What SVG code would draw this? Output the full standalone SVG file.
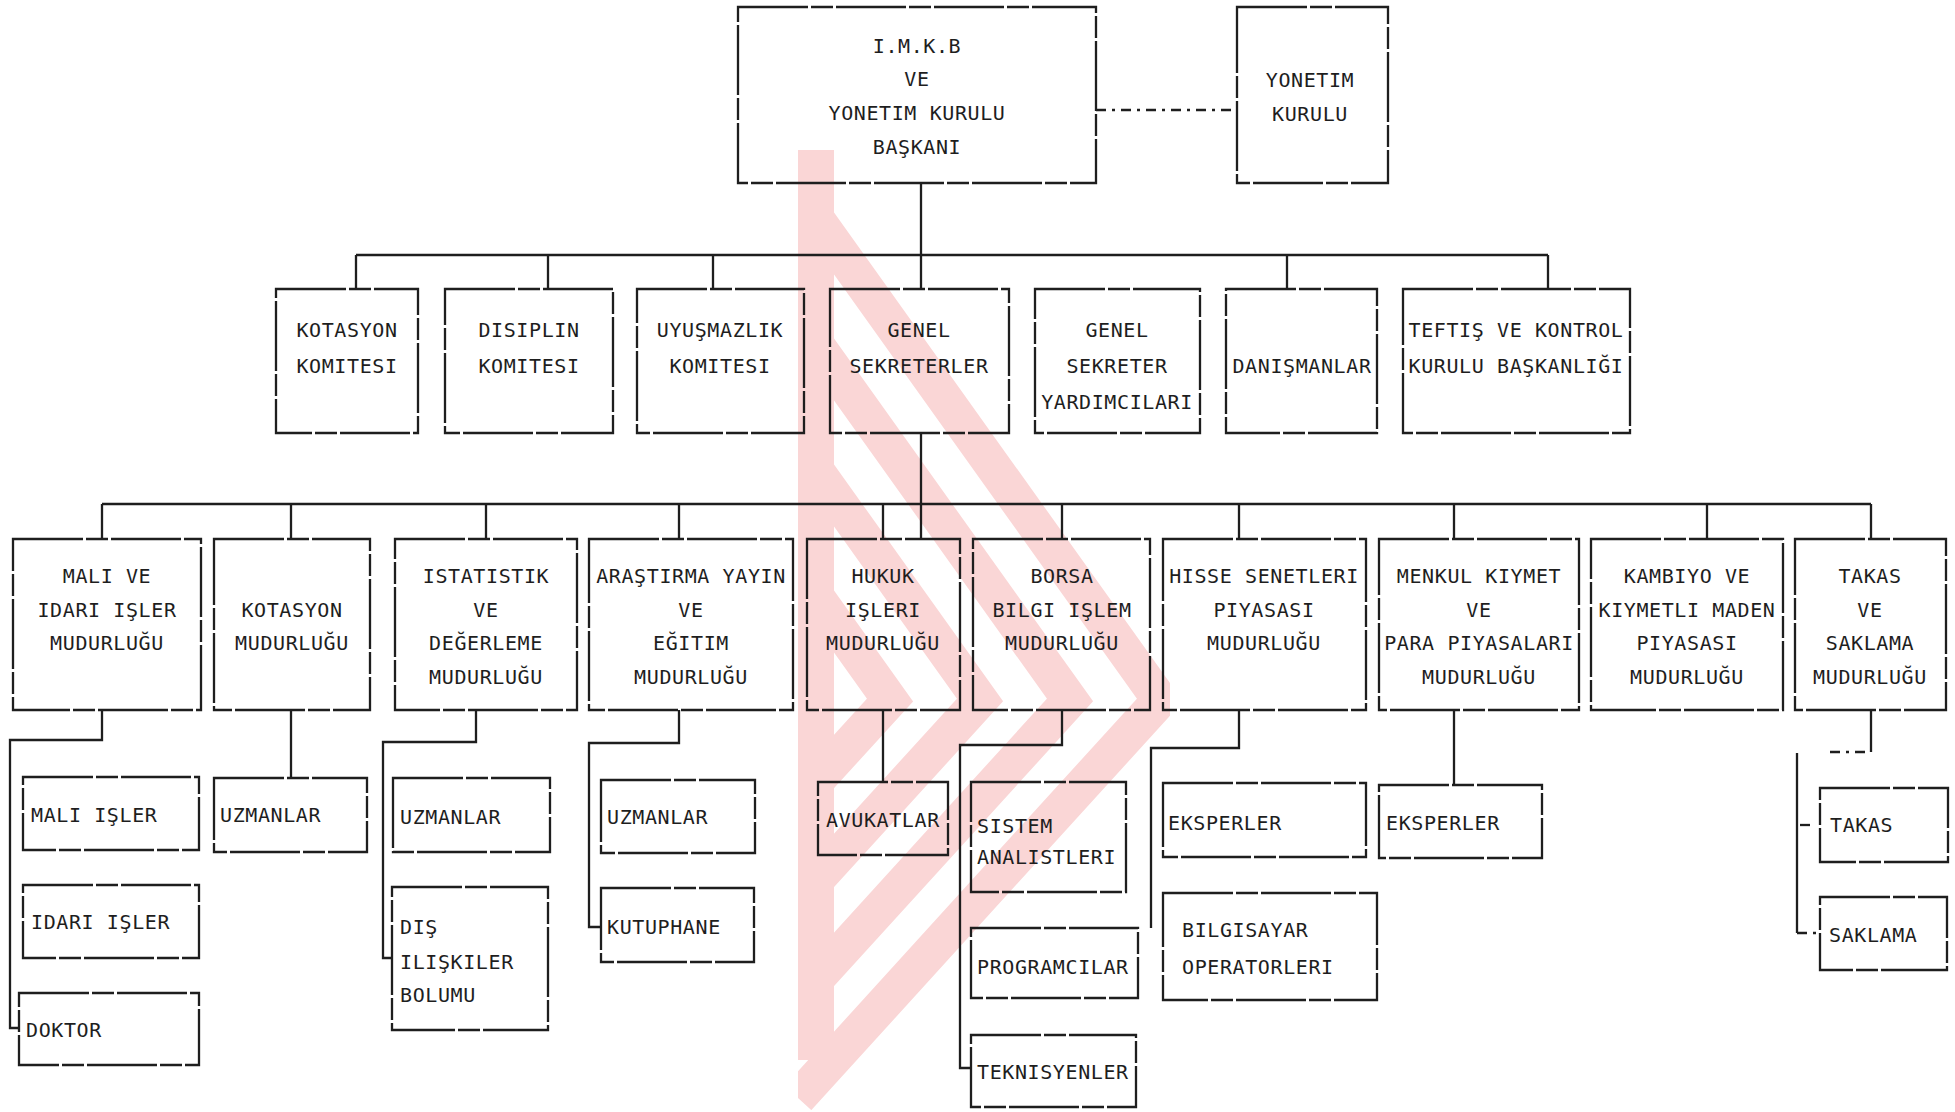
<svg xmlns="http://www.w3.org/2000/svg" width="1955" height="1112" viewBox="0 0 1955 1112">
<style>
.bx{fill:none;stroke:#1e1e1e;stroke-width:2.3;stroke-dasharray:70 3 22 3}
.ln{fill:none;stroke:#1e1e1e;stroke-width:2.3}
.dd{fill:none;stroke:#1e1e1e;stroke-width:2.3;stroke-dasharray:10 6 3 6}
text{font-family:"DejaVu Sans Mono","Liberation Mono",monospace;font-size:20px;fill:#1e1e1e;letter-spacing:0.6px}
.c{text-anchor:middle}
.wm{fill:none;stroke:#fad6d6;stroke-width:36}
</style>
<defs>
<clipPath id="wmclip"><rect x="798" y="120" width="372" height="990"/></clipPath>
</defs>
<rect width="1955" height="1112" fill="#ffffff"/>
<g id="watermark" clip-path="url(#wmclip)">
<polyline class="wm" points="798,193 1160,700 798,1098"/>
<polyline class="wm" points="798,319 1070,700 798,999"/>
<polyline class="wm" points="798,445 980,700 798,900"/>
<polyline class="wm" points="798,571 890,700 798,801"/>
<rect x="798" y="150" width="36" height="910" fill="#fad6d6"/>
</g>
<g id="connectors">
<line class="dd" x1="1096" y1="110" x2="1237" y2="110"/>
<line class="ln" x1="921" y1="183" x2="921" y2="289"/>
<line class="ln" x1="356" y1="255" x2="1548" y2="255"/>
<path class="ln" d="M356 255V289M548 255V289M713 255V289M1287 255V289M1548 255V289"/>
<line class="ln" x1="921" y1="433" x2="921" y2="539"/>
<line class="ln" x1="102" y1="504" x2="1871" y2="504"/>
<path class="ln" d="M102 504V539M291 504V539M486 504V539M679 504V539M883 504V539M1062 504V539M1239 504V539M1454 504V539M1707 504V539M1871 504V539"/>
<path class="ln" d="M102 710V740H10V1028H19"/>
<path class="ln" d="M291 710V778"/>
<path class="ln" d="M476 710V742H383V958H392"/>
<path class="ln" d="M679 710V743H589V927H601"/>
<path class="ln" d="M883 710V782"/>
<path class="ln" d="M1062 710V745H960V1068H971"/>
<path class="ln" d="M1239 710V748H1151V928"/>
<path class="ln" d="M1454 710V785"/>
<path class="ln" d="M1871 710V752"/>
<line class="dd" x1="1830" y1="752" x2="1871" y2="752"/>
<path class="ln" d="M1797 753V933"/>
<line class="dd" x1="1797" y1="933" x2="1820" y2="933"/>
<line class="dd" x1="1800" y1="825" x2="1812" y2="825"/>
</g>
<g id="n-baskan"><rect class="bx" x="738" y="7" width="358" height="176"/>
<text class="c" x="917" y="53">I.M.K.B</text><text class="c" x="917" y="86">VE</text><text class="c" x="917" y="120">YONETIM KURULU</text><text class="c" x="917" y="154">BAŞKANI</text></g>
<g id="n-yonetim"><rect class="bx" x="1237" y="7" width="151" height="176"/>
<text class="c" x="1310" y="87">YONETIM</text><text class="c" x="1310" y="121">KURULU</text></g>

<g id="n-kotkom"><rect class="bx" x="276" y="289" width="142" height="144"/>
<text class="c" x="347" y="337">KOTASYON</text><text class="c" x="347" y="373">KOMITESI</text></g>
<g id="n-disiplin"><rect class="bx" x="445" y="289" width="168" height="144"/>
<text class="c" x="529" y="337">DISIPLIN</text><text class="c" x="529" y="373">KOMITESI</text></g>
<g id="n-uyusmazlik"><rect class="bx" x="637" y="289" width="167" height="144"/>
<text class="c" x="720" y="337">UYUŞMAZLIK</text><text class="c" x="720" y="373">KOMITESI</text></g>
<g id="n-gensek"><rect class="bx" x="830" y="289" width="179" height="144"/>
<text class="c" x="919" y="337">GENEL</text><text class="c" x="919" y="373">SEKRETERLER</text></g>
<g id="n-gsy"><rect class="bx" x="1035" y="289" width="165" height="144"/>
<text class="c" x="1117" y="337">GENEL</text><text class="c" x="1117" y="373">SEKRETER</text><text class="c" x="1117" y="409">YARDIMCILARI</text></g>
<g id="n-danisman"><rect class="bx" x="1226" y="289" width="151" height="144"/>
<text class="c" x="1302" y="373">DANIŞMANLAR</text></g>
<g id="n-teftis"><rect class="bx" x="1403" y="289" width="227" height="144"/>
<text class="c" x="1516" y="337">TEFTIŞ VE KONTROL</text><text class="c" x="1516" y="373">KURULU BAŞKANLIĞI</text></g>

<g id="n-mali"><rect class="bx" x="13" y="539" width="188" height="171"/>
<text class="c" x="107" y="583">MALI VE</text><text class="c" x="107" y="617">IDARI IŞLER</text><text class="c" x="107" y="650">MUDURLUĞU</text></g>
<g id="n-kotmd"><rect class="bx" x="214" y="539" width="156" height="171"/>
<text class="c" x="292" y="617">KOTASYON</text><text class="c" x="292" y="650">MUDURLUĞU</text></g>
<g id="n-istatistik"><rect class="bx" x="395" y="539" width="182" height="171"/>
<text class="c" x="486" y="583">ISTATISTIK</text><text class="c" x="486" y="617">VE</text><text class="c" x="486" y="650">DEĞERLEME</text><text class="c" x="486" y="684">MUDURLUĞU</text></g>
<g id="n-arastirma"><rect class="bx" x="589" y="539" width="204" height="171"/>
<text class="c" x="691" y="583">ARAŞTIRMA YAYIN</text><text class="c" x="691" y="617">VE</text><text class="c" x="691" y="650">EĞITIM</text><text class="c" x="691" y="684">MUDURLUĞU</text></g>
<g id="n-hukuk"><rect class="bx" x="807" y="539" width="153" height="171"/>
<text class="c" x="883" y="583">HUKUK</text><text class="c" x="883" y="617">IŞLERI</text><text class="c" x="883" y="650">MUDURLUĞU</text></g>
<g id="n-borsa"><rect class="bx" x="973" y="539" width="177" height="171"/>
<text class="c" x="1062" y="583">BORSA</text><text class="c" x="1062" y="617">BILGI IŞLEM</text><text class="c" x="1062" y="650">MUDURLUĞU</text></g>
<g id="n-hisse"><rect class="bx" x="1163" y="539" width="203" height="171"/>
<text class="c" x="1264" y="583">HISSE SENETLERI</text><text class="c" x="1264" y="617">PIYASASI</text><text class="c" x="1264" y="650">MUDURLUĞU</text></g>
<g id="n-menkul"><rect class="bx" x="1379" y="539" width="200" height="171"/>
<text class="c" x="1479" y="583">MENKUL KIYMET</text><text class="c" x="1479" y="617">VE</text><text class="c" x="1479" y="650">PARA PIYASALARI</text><text class="c" x="1479" y="684">MUDURLUĞU</text></g>
<g id="n-kambiyo"><rect class="bx" x="1591" y="539" width="192" height="171"/>
<text class="c" x="1687" y="583">KAMBIYO VE</text><text class="c" x="1687" y="617">KIYMETLI MADEN</text><text class="c" x="1687" y="650">PIYASASI</text><text class="c" x="1687" y="684">MUDURLUĞU</text></g>
<g id="n-takas"><rect class="bx" x="1795" y="539" width="151" height="171"/>
<text class="c" x="1870" y="583">TAKAS</text><text class="c" x="1870" y="617">VE</text><text class="c" x="1870" y="650">SAKLAMA</text><text class="c" x="1870" y="684">MUDURLUĞU</text></g>

<g id="n-maliisler"><rect class="bx" x="23" y="777" width="176" height="73"/><text x="31" y="822">MALI IŞLER</text></g>
<g id="n-idariisler"><rect class="bx" x="23" y="885" width="176" height="73"/><text x="31" y="929">IDARI IŞLER</text></g>
<g id="n-doktor"><rect class="bx" x="19" y="993" width="180" height="72"/><text x="26" y="1037">DOKTOR</text></g>
<g id="n-uzm1"><rect class="bx" x="214" y="778" width="153" height="74"/><text x="220" y="822">UZMANLAR</text></g>
<g id="n-uzm2"><rect class="bx" x="393" y="778" width="157" height="74"/><text x="400" y="824">UZMANLAR</text></g>
<g id="n-dis"><rect class="bx" x="392" y="887" width="156" height="143"/><text x="400" y="934">DIŞ</text><text x="400" y="969">ILIŞKILER</text><text x="400" y="1002">BOLUMU</text></g>
<g id="n-uzm3"><rect class="bx" x="601" y="780" width="154" height="73"/><text x="607" y="824">UZMANLAR</text></g>
<g id="n-kutuphane"><rect class="bx" x="601" y="888" width="153" height="74"/><text x="607" y="934">KUTUPHANE</text></g>
<g id="n-avukat"><rect class="bx" x="818" y="782" width="130" height="73"/><text x="826" y="827">AVUKATLAR</text></g>
<g id="n-sistem"><rect class="bx" x="971" y="782" width="155" height="110"/><text x="977" y="833">SISTEM</text><text x="977" y="864">ANALISTLERI</text></g>
<g id="n-program"><rect class="bx" x="971" y="928" width="167" height="70"/><text x="977" y="974">PROGRAMCILAR</text></g>
<g id="n-teknisyen"><rect class="bx" x="971" y="1035" width="165" height="72"/><text x="977" y="1079">TEKNISYENLER</text></g>
<g id="n-eksper1"><rect class="bx" x="1163" y="783" width="203" height="74"/><text x="1168" y="830">EKSPERLER</text></g>
<g id="n-bilgisayar"><rect class="bx" x="1163" y="893" width="214" height="107"/><text x="1182" y="937">BILGISAYAR</text><text x="1182" y="974">OPERATORLERI</text></g>
<g id="n-eksper2"><rect class="bx" x="1379" y="785" width="163" height="73"/><text x="1386" y="830">EKSPERLER</text></g>
<g id="n-takas2"><rect class="bx" x="1820" y="788" width="128" height="74"/><text x="1830" y="832">TAKAS</text></g>
<g id="n-saklama"><rect class="bx" x="1820" y="897" width="127" height="73"/><text x="1829" y="942">SAKLAMA</text></g>
</svg>
